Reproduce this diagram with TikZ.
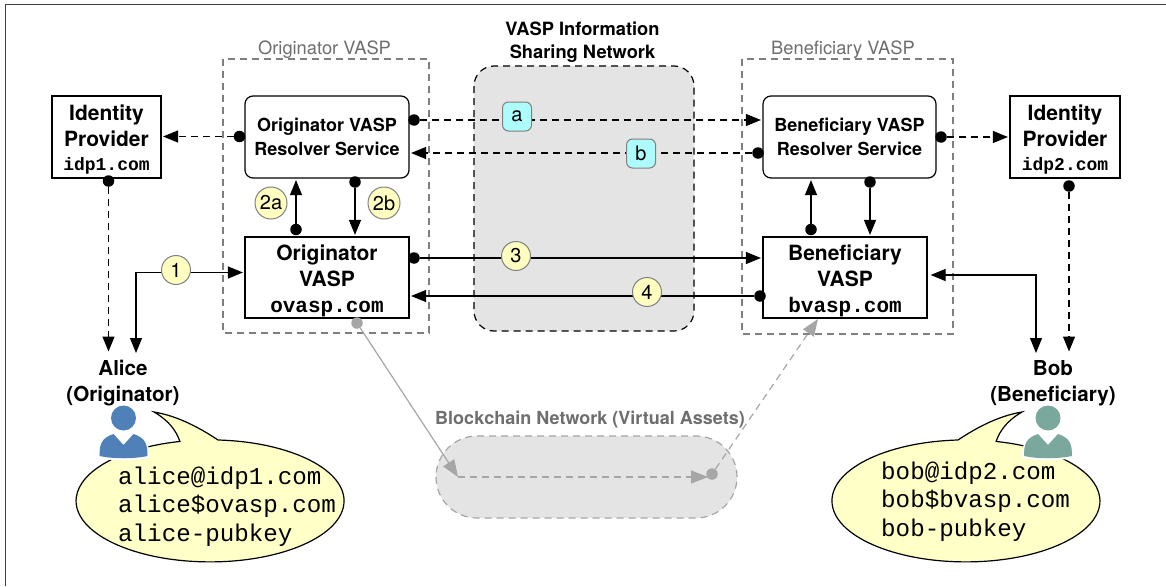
\documentclass[tikz,border=0pt]{standalone}
\usepackage{fontspec}
\setmainfont{TeX Gyre Heros}
\setmonofont{Liberation Mono}
\usetikzlibrary{arrows.meta,calc}
\definecolor{grayline}{HTML}{7F7F7F}
\definecolor{grayarrow}{HTML}{A6A6A6}
\definecolor{graytext}{HTML}{6E6E6E}
\definecolor{netfill}{HTML}{E4E4E4}
\definecolor{bubble}{HTML}{FFFFC8}
\definecolor{badgeY}{HTML}{FFFDBF}
\definecolor{badgeC}{HTML}{AEFBFB}
\definecolor{alicec}{HTML}{4F81B8}
\definecolor{bobc}{HTML}{7BA89C}
\newcommand{\smt}[1]{{\fontsize{18}{24}\selectfont\ttfamily\bfseries #1}}
\newcommand{\vmt}[1]{{\fontsize{21}{28}\selectfont\ttfamily\bfseries #1}}
\newcommand{\firstl}{\rule{0pt}{21.5pt}}
\tikzset{
  box/.style={draw=black,line width=1.2pt,fill=white,inner sep=0pt,align=center,anchor=center},
  bigbox/.style={box,font=\fontsize{21}{26}\selectfont\bfseries},
  medbox/.style={box,font=\fontsize{18}{24}\selectfont\bfseries,rounded corners=8pt},
  dotn/.style={circle,fill=black,inner sep=0pt,minimum size=11.5pt},
  graydot/.style={circle,fill=grayarrow,inner sep=0pt,minimum size=11.5pt},
  tipb/.style={-{Triangle[length=15pt,width=12pt]},line width=1.2pt,shorten >=1.5pt},
  conn/.style={tipb,black},
  dconn/.style={tipb,black,dash pattern=on 7pt off 5pt},
  groupb/.style={draw=grayline,line width=1.2pt,dash pattern=on 7pt off 5pt},
  grouplabel/.style={text=graytext,font=\fontsize{18.3}{20}\selectfont},
  round1/.style={circle,draw=gray,line width=1pt,fill=badgeY,inner sep=0pt,text=black,font=\fontsize{20}{22}\selectfont},
  round2/.style={rectangle,rounded corners=6pt,draw=gray,line width=1pt,fill=badgeC,inner sep=0pt,minimum size=29pt,text=black,font=\fontsize{20}{22}\selectfont},
  gconn/.style={-{Triangle[length=17pt,width=13pt]},grayarrow,line width=1.2pt},
  gdconn/.style={gconn,dash pattern=on 7pt off 5pt},
  bubbleb/.style={draw=black,line width=1.2pt,fill=bubble},
  bubtext/.style={anchor=west,inner sep=0pt,font=\fontsize{24.2}{28}\selectfont\ttfamily},
  personlabel/.style={align=center,font=\fontsize{20.6}{26}\selectfont\bfseries},
}
\begin{document}
\begin{tikzpicture}[x=1pt,y=1pt]
\useasboundingbox (0,0) rectangle (1166,-586);
\fill[white] (0,0) rectangle (1166,-586);
\draw[draw=black!75,line width=1.4pt] (5.5,-586) -- (5.5,-4.5) -- (1166,-4.5);
% groups
\draw[groupb] (223,-59) rectangle (429,-333);
\draw[groupb] (742,-59) rectangle (953,-334);
\node[grouplabel] (lo) at (324.5,-50) {Originator VASP};
\node[grouplabel] (lb) at (843,-50) {Beneficiary VASP};
% info network
\draw[draw=black,fill=netfill,line width=1.2pt,dash pattern=on 7pt off 5pt,rounded corners=20pt] (474,-66) rectangle (694,-331);
\node[align=center,font=\fontsize{18.3}{23}\selectfont\bfseries] (vn) at (582.5,-42) {VASP Information\\Sharing Network};
% blockchain
\draw[draw=grayarrow,fill=netfill,line width=1.2pt,dash pattern=on 7pt off 5pt,rounded corners=41pt] (436,-436) rectangle (737,-518);
\node[text=graytext,font=\fontsize{18}{20}\selectfont\bfseries] (bn) at (590,-420) {Blockchain Network (Virtual Assets)};
% boxes
\node[bigbox,minimum width=109pt,minimum height=82pt] (idp1) at (106.5,-137) {\firstl Identity\\Provider\\[-2pt]\smt{idp1.com}};
\node[medbox,minimum width=164pt,minimum height=82pt] (ores) at (327,-137) {Originator VASP\\Resolver Service};
\node[bigbox,minimum width=164pt,minimum height=81pt] (ovasp) at (327,-277.5) {\firstl Originator\\VASP\\\vmt{ovasp.com}};
\node[medbox,minimum width=173pt,minimum height=82pt] (bres) at (849.5,-137) {Beneficiary VASP\\Resolver Service};
\node[bigbox,minimum width=164pt,minimum height=81pt] (bvasp) at (845,-277.5) {\firstl Beneficiary\\VASP\\\vmt{bvasp.com}};
\node[bigbox,minimum width=110pt,minimum height=82pt] (idp2) at (1065,-137) {\firstl Identity\\Provider\\[-2pt]\smt{idp2.com}};
% people labels
\node[personlabel] (alice) at (123,-383) {Alice\\(Originator)};
\node[personlabel] (bob) at (1053,-383) {Bob\\(Beneficiary)};
% dots
\node[dotn] (d1) at (239.5,-136.5) {};
\node[dotn] (d2) at (108.5,-181) {};
\node[dotn] (da) at (414,-120) {};
\node[dotn] (db) at (758,-153) {};
\node[dotn] (d3) at (414,-258) {};
\node[dotn] (d4) at (760,-296) {};
\node[dotn] (d2a) at (296,-229.5) {};
\node[dotn] (d2b) at (355,-182) {};
\node[dotn] (e2a) at (811,-229.5) {};
\node[dotn] (e2b) at (870,-182) {};
\node[dotn] (e1) at (941,-137) {};
\node[dotn] (e2) at (1069,-186) {};
\coordinate (at1) at (136,-353);
\coordinate (at2) at (108.5,-353);
\coordinate (bt1) at (1036,-353);
\coordinate (bt2) at (1069,-353);
% connectors
\draw[dconn] (d1) -- (idp1.east |- d1);
\draw[dconn] (d2) -- (at2);
\draw[dconn] (da) -- (bres.west |- da);
\draw[dconn] (db) -- (ores.east |- db);
\draw[conn] (d3) -- (bvasp.west |- d3);
\draw[conn] (d4) -- (ovasp.east |- d4);
\draw[conn] (d2a) -- (ores.south -| d2a);
\draw[conn] (d2b) -- (ovasp.north -| d2b);
\draw[conn] (e2a) -- (bres.south -| e2a);
\draw[conn] (e2b) -- (bvasp.north -| e2b);
\draw[dconn] (e1) -- (idp2.west |- e1);
\draw[dconn] (e2) -- (bt2);
\draw[line width=1.2pt,{Triangle[length=15pt,width=12pt]}-{Triangle[length=15pt,width=12pt]},shorten <=1.5pt] (ovasp.west |- 0,-272.5) -- (136,-272.5) -- (at1);
\draw[line width=1.2pt,{Triangle[length=15pt,width=12pt]}-{Triangle[length=15pt,width=12pt]},shorten <=3pt] (bvasp.east |- 0,-275) -- (1036,-275) -- (bt1);
% badges
\node[round1,minimum size=29pt] (b1) at (176,-270) {1};
\node[round1,minimum size=32pt] (b2a) at (271,-203) {2a};
\node[round1,minimum size=32pt] (b2b) at (384,-203) {2b};
\node[round1,minimum size=29pt] (b3) at (516,-256) {3};
\node[round1,minimum size=29pt] (b4) at (647,-292) {4};
\node[round2] (ba) at (517,-116.5) {a};
\node[round2] (bb) at (641,-153.5) {b};
% blockchain flow
\node[graydot] (g1) at (357,-323) {};
\node[graydot] (g2) at (712,-474) {};
\coordinate (g0) at (458,-477);
\coordinate (g3) at (818,-319);
\draw[gconn] (g1) -- (g0);
\draw[gdconn] (g0) -- (708,-477);
\draw[gdconn] (g2) -- (g3);
% bubbles
\draw[bubbleb] (218,-440) arc[x radius=134,y radius=61,start angle=86.6,end angle=-257]
  .. controls (176,-430) and (168,-420) .. (154,-412)
  .. controls (178,-416) and (200,-428) .. (218,-440) -- cycle;
\draw[bubbleb] (958,-440) arc[x radius=134,y radius=61,start angle=93.4,end angle=437]
  .. controls (1000,-430) and (1008,-420) .. (1022,-412)
  .. controls (998,-416) and (976,-428) .. (958,-440) -- cycle;
\node[bubtext] (t1) at (118,-478.5) {alice@idp1.com};
\node[bubtext] (t2) at (118,-506.5) {alice\$ovasp.com};
\node[bubtext] (t3) at (118,-535.5) {alice-pubkey};
\node[bubtext] (u1) at (881,-473.5) {bob@idp2.com};
\node[bubtext] (u2) at (881,-501.5) {bob\$bvasp.com};
\node[bubtext] (u3) at (881,-530.5) {bob-pubkey};
% persons
\foreach \cx/\col in {123.5/alicec,1048/bobc}{
  \begin{scope}[shift={(\cx,-418)}]
    \fill[white] (-26,-40) .. controls (-26,-30) and (-24,-20) .. (-16,-17) -- (16,-17) .. controls (24,-20) and (26,-30) .. (26,-40) .. controls (10,-43) and (-10,-43) .. (-26,-40) -- cycle;
    \fill[\col] (0,0) circle (12.5);
    \fill[\col] (-24,-38) .. controls (-24,-26) and (-22,-20) .. (-10,-16) -- (0,-27) -- (10,-16) .. controls (22,-20) and (24,-26) .. (24,-38) .. controls (10,-41) and (-10,-41) .. (-24,-38) -- cycle;
  \end{scope}
}
\end{tikzpicture}
\end{document}
